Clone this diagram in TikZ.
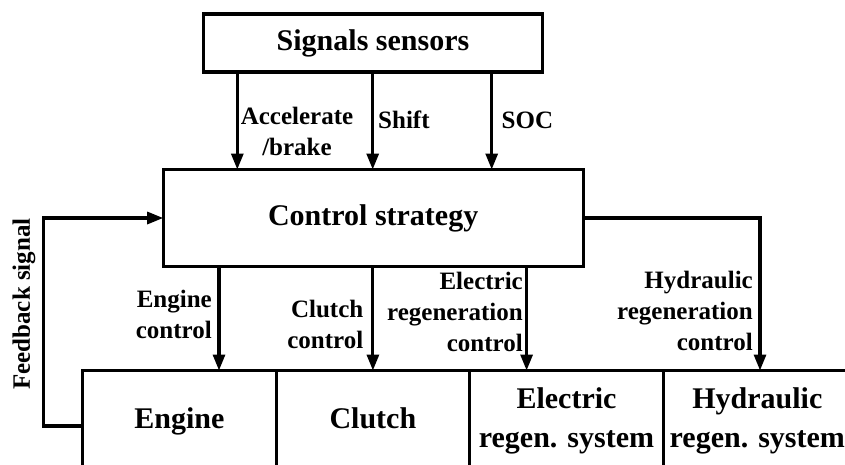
\documentclass[tikz,border=0pt]{standalone}
\usepackage{fontspec}
\setmainfont{Liberation Serif}
\usetikzlibrary{arrows.meta,calc}
\begin{document}
\begin{tikzpicture}[x=1pt,y=-1pt,
  blk/.style={draw, line width=3.1pt, inner sep=0pt, outer sep=0pt, align=center,
    font=\bfseries\fontsize{30}{39}\selectfont},
  lbl/.style={inner sep=0pt, font=\bfseries\fontsize{25}{31}\selectfont},
  arr/.style={line width=3.1pt, -{Triangle[length=16pt,width=12pt]}}]
\useasboundingbox (0,0) rectangle (845,464);
\clip (0,0) rectangle (845,464);
% boxes
\node[blk, minimum width=339pt, minimum height=58pt] (sensors) at (373,43) {Signals sensors};
\node[blk, minimum width=420pt, minimum height=97pt] (control) at (373.2,218) {Control strategy};
\node[blk, minimum width=193.5pt, minimum height=101pt] (engine) at (179.35,421) {Engine};
\node[blk, minimum width=193.5pt, minimum height=101pt] (clutch) at (372.9,421) {Clutch\vphantom{g}};
\node[blk, minimum width=193.5pt, minimum height=101pt] (elec) at (566.5,421) {Electric\\regen. system};
\node[blk, minimum width=188pt, minimum height=101pt] (hyd) at (757.3,421) {Hydraulic\\regen. system};
% sensor arrows
\draw[arr] (237.3,0 |- sensors.south) -- (237.3,0 |- control.north);
\draw[arr] (372.7,0 |- sensors.south) -- (372.7,0 |- control.north);
\draw[arr] (491.7,0 |- sensors.south) -- (491.7,0 |- control.north);
% control arrows
\draw[arr] (219,0 |- control.south) -- (219,0 |- engine.north);
\draw[arr] (clutch.north |- control.south) -- (clutch.north);
\draw[arr] (526.6,0 |- control.south) -- (526.6,0 |- elec.north);
\draw[arr] (control.east) -| (760,0 |- hyd.north);
% feedback
\draw[arr] ([yshift=-5pt]engine.west) -- ++(-39.4,0) |- (control.west);
% labels
\node[lbl, align=center] (accl) at (297,131.3) {Accelerate\\/brake};
\node[lbl, anchor=west] (shift) at (378,120) {Shift};
\node[lbl, anchor=west] (soc) at (501.5,120) {SOC};
\node[lbl, align=right, anchor=east] (englbl) at (212,314.5) {Engine\\control};
\node[lbl, align=right, anchor=east] (clulbl) at (363.5,324.7) {Clutch\\control};
\node[lbl, align=right, anchor=east] (elelbl) at (523,312.4) {Electric\\regeneration\\control};
\node[lbl, align=right, anchor=east] (hydlbl) at (753,311) {Hydraulic\\regeneration\\control};
\node[lbl, rotate=90] (fb) at (24,304) {Feedback signal};
\end{tikzpicture}
\end{document}
